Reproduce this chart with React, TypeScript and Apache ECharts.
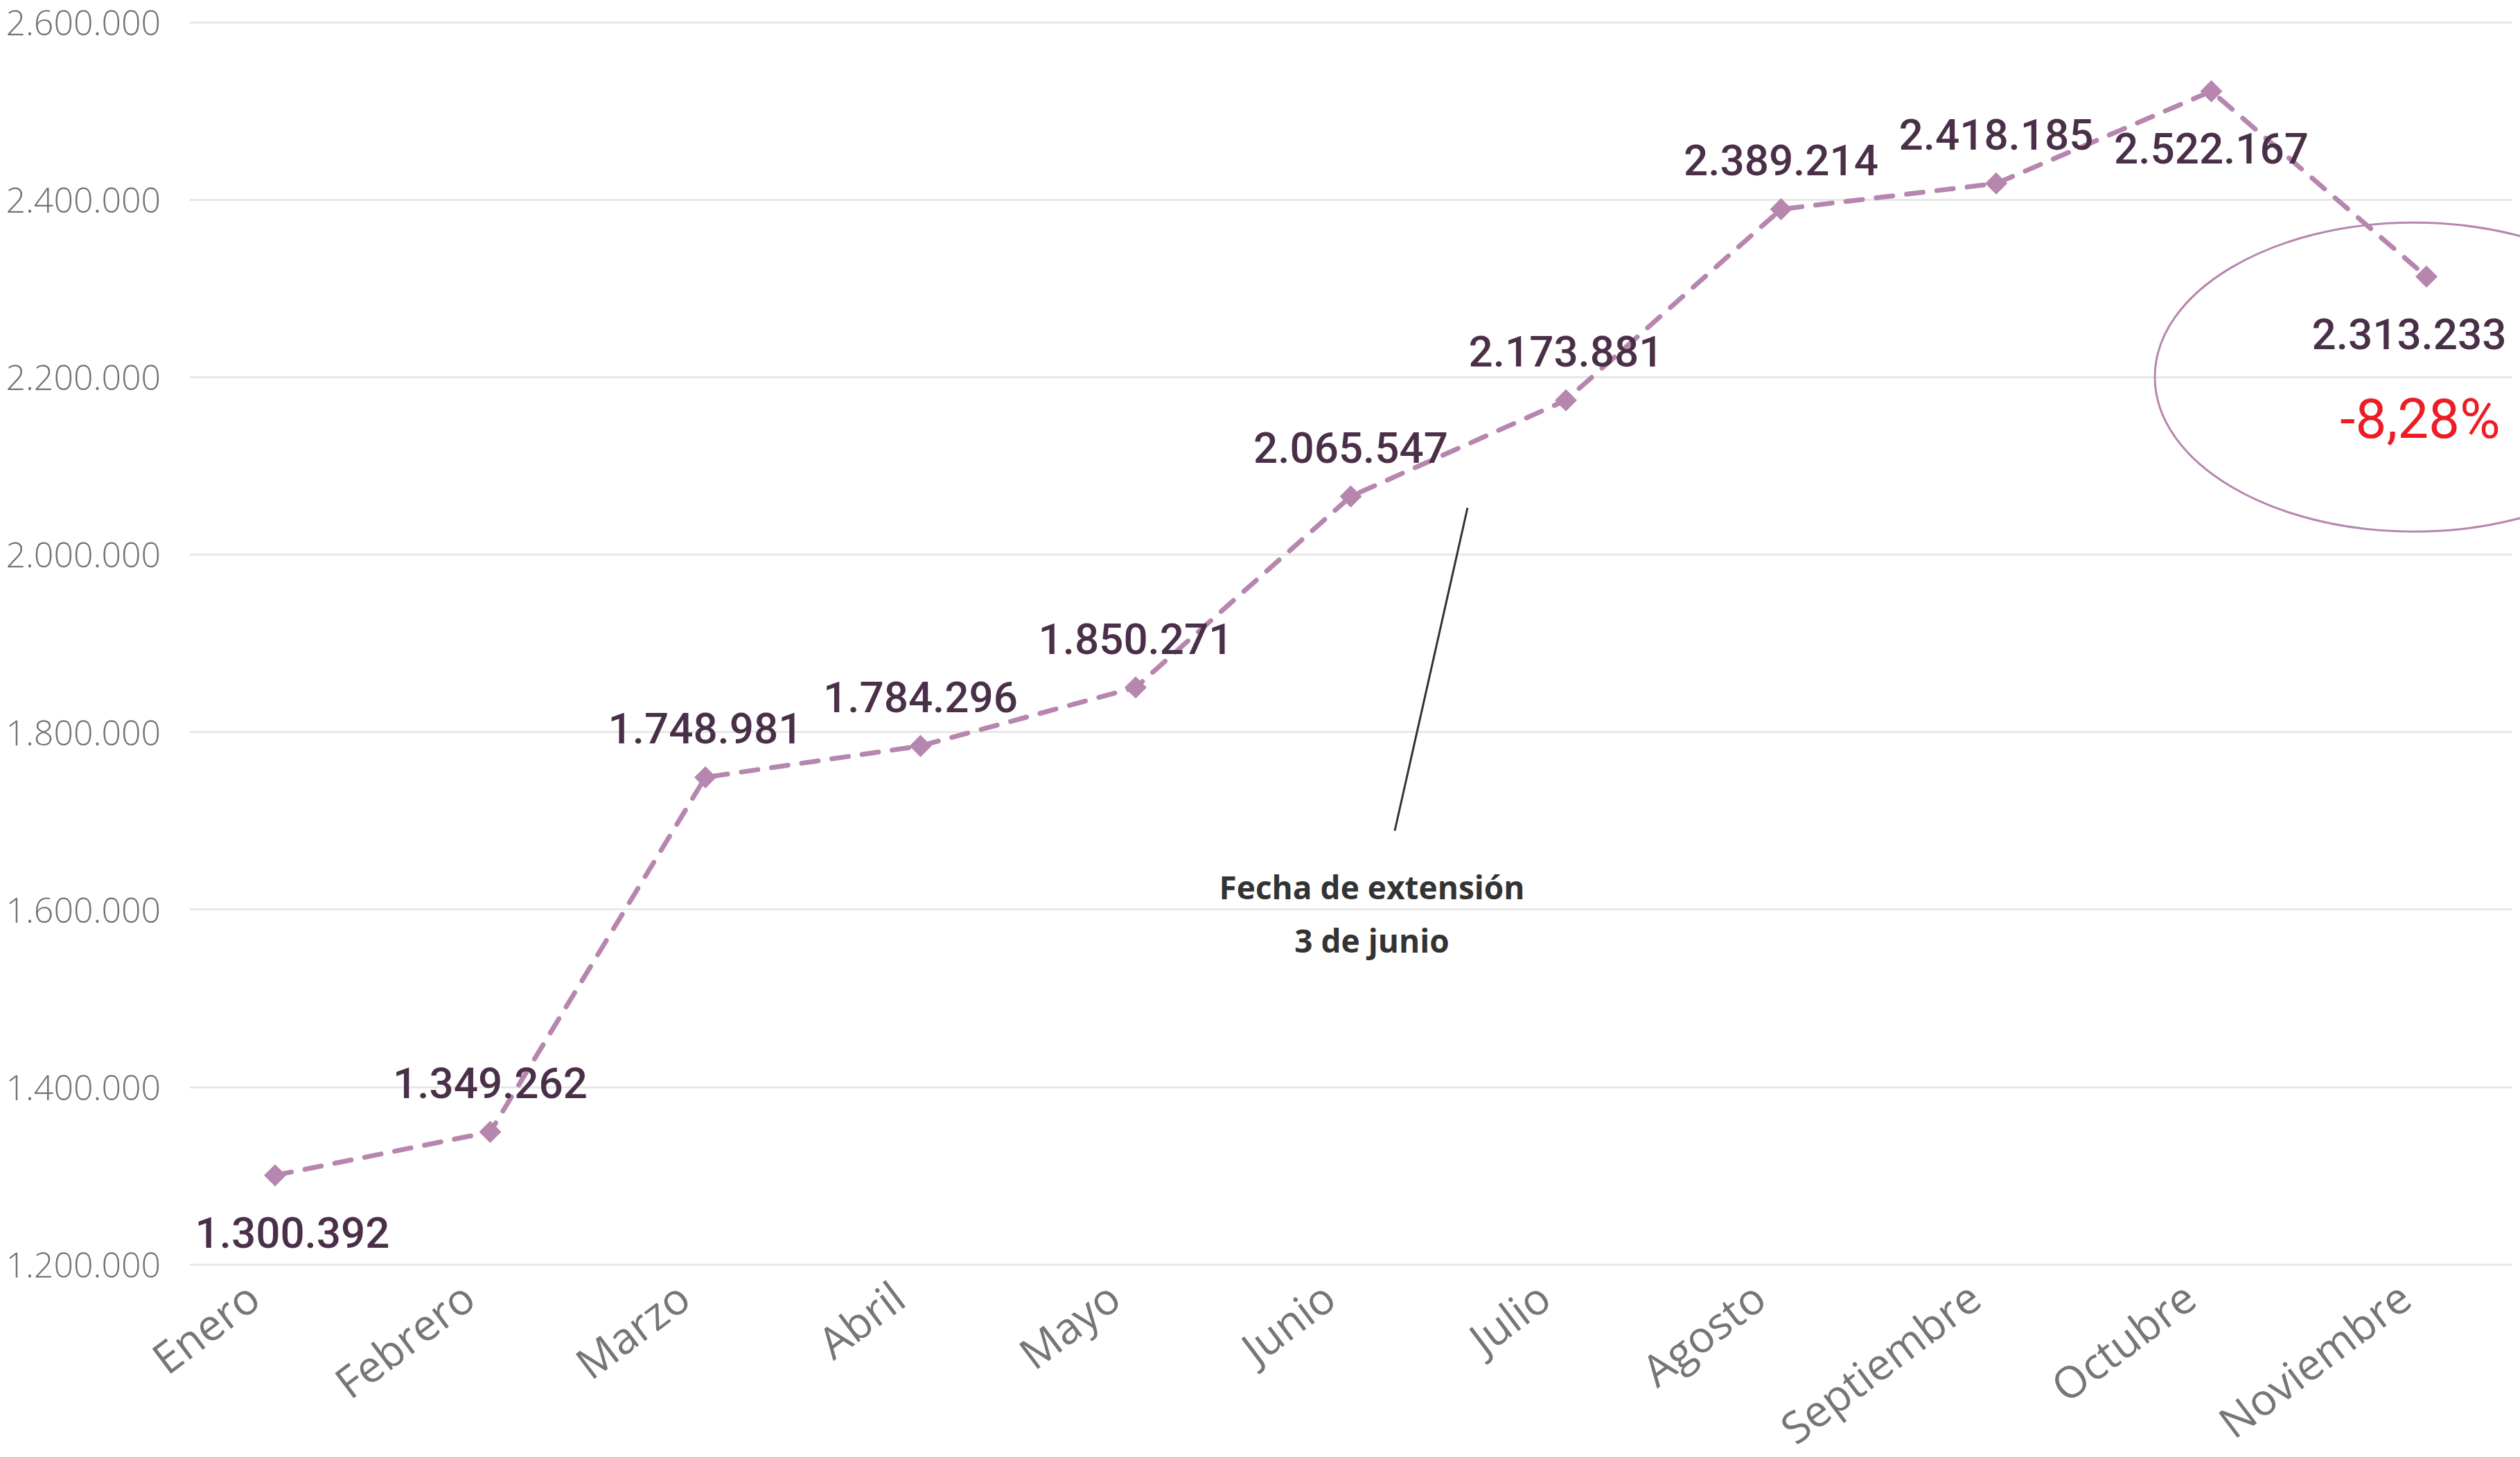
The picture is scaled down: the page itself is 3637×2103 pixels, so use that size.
import React, { useEffect, useRef } from 'react';
import * as echarts from 'echarts';

const months = ['Enero', 'Febrero', 'Marzo', 'Abril', 'Mayo', 'Junio', 'Julio', 'Agosto', 'Septiembre', 'Octubre', 'Noviembre'];
const values = [1300392, 1349262, 1748981, 1784296, 1850271, 2065547, 2173881, 2389214, 2418185, 2522167, 2313233];
const yMin = 1200000;
const yMax = 2600000;
const yStep = 200000;
const labelBelow = [true, false, false, false, false, false, false, false, false, true, true];
const labelShiftX = [25, 0, 0, 0, 0, 0, 0, 0, 0, 0, -25];
const annotationText = ['Fecha de extensión', '3 de junio'];

const W = 3637;
const H = 2103;
const PURPLE = '#b686ae';

const fmt = (v: number) => Math.round(v).toString().replace(/\B(?=(\d{3})+(?!\d))/g, '.');

export default function App() {
  const ref = useRef<HTMLDivElement>(null);
  useEffect(() => {
    document.body.style.margin = '0';
    if (!ref.current) return;
    const chart = echarts.init(ref.current, null, { renderer: 'svg' });
    const top = 32;
    const bottom = H - 1825;
    chart.setOption({
      animation: false,
      backgroundColor: '#ffffff',
      grid: [
        { left: 274, right: 11, top, bottom, containLabel: false, outerBoundsMode: 'none' },
        { left: 397, right: 135, top, bottom, containLabel: false, outerBoundsMode: 'none' },
      ],
      xAxis: [
        { gridIndex: 0, type: 'value', show: false, min: 0, max: 1 },
        {
          gridIndex: 1,
          type: 'category',
          data: months,
          boundaryGap: false,
          axisLine: { show: false },
          axisTick: { show: false },
          axisLabel: {
            interval: 0,
            rotate: 37,
            margin: 14,
            padding: [0, 40, 0, 0],
            color: '#767676',
            fontFamily: 'Open Sans',
            fontWeight: 400,
            fontSize: 63,
            lineHeight: 63,
          },
        },
      ],
      yAxis: [
        {
          gridIndex: 0,
          type: 'value',
          min: yMin,
          max: yMax,
          interval: yStep,
          axisLine: { show: false },
          axisTick: { show: false },
          axisLabel: {
            formatter: (v: number) => fmt(v),
            color: '#727272',
            fontFamily: 'Open Sans',
            fontWeight: 300,
            fontSize: 50,
            lineHeight: 50,
            margin: 42,
          },
          splitLine: { show: true, lineStyle: { color: '#e8e8e8', width: 3 } },
        },
        {
          gridIndex: 1,
          type: 'value',
          min: yMin,
          max: yMax,
          interval: yStep,
          show: false,
          splitLine: { show: false },
        },
      ],
      series: [
        {
          type: 'line',
          xAxisIndex: 1,
          yAxisIndex: 1,
          data: values.map((v, i) => ({
            value: v,
            label: {
              position: labelBelow[i] ? 'bottom' : 'top',
              distance: labelBelow[i] ? 36 : 23,
              offset: [labelShiftX[i], 0],
            },
          })),
          symbol: 'diamond',
          symbolSize: 32,
          itemStyle: { color: PURPLE },
          lineStyle: { color: PURPLE, width: 7, type: [24, 20], cap: 'round' },
          label: {
            show: true,
            formatter: (p: any) => fmt(p.value),
            fontFamily: 'Roboto',
            fontWeight: 500,
            fontSize: 62,
            color: '#4a2f48',
          },
          z: 3,
        },
      ],
    });

    const last = values.length - 1;
    const pLast = chart.convertToPixel({ xAxisIndex: 1, yAxisIndex: 1 }, [last, 2200000]) as number[];
    const pct = ((values[last] - values[last - 1]) / values[last - 1]) * 100;
    const pctText = pct.toFixed(2).replace('.', ',') + '%';

    chart.setOption({
      graphic: [
        {
          type: 'ellipse',
          shape: { cx: pLast[0] - 18, cy: pLast[1], rx: 374, ry: 223 },
          style: { fill: 'none', stroke: PURPLE, lineWidth: 3 },
          z: 1,
        },
        {
          type: 'text',
          x: pLast[0] - 9,
          y: pLast[1] + 61,
          style: {
            text: pctText,
            fill: '#ee1c25',
            font: '80px Roboto',
            align: 'center',
            verticalAlign: 'middle',
          },
          z: 5,
        },
        {
          type: 'line',
          shape: { x1: 2118, y1: 733, x2: 2013, y2: 1199 },
          style: { stroke: '#333333', lineWidth: 3 },
          z: 5,
        },
        {
          type: 'text',
          x: 1980,
          y: 1318,
          style: {
            text: annotationText.join('\n'),
            fill: '#333333',
            font: 'bold 46px "Open Sans"',
            align: 'center',
            verticalAlign: 'middle',
            lineHeight: 77,
          },
          z: 5,
        },
      ],
    });

    return () => chart.dispose();
  }, []);
  return <div ref={ref} style={{ width: W, height: H }} />;
}
